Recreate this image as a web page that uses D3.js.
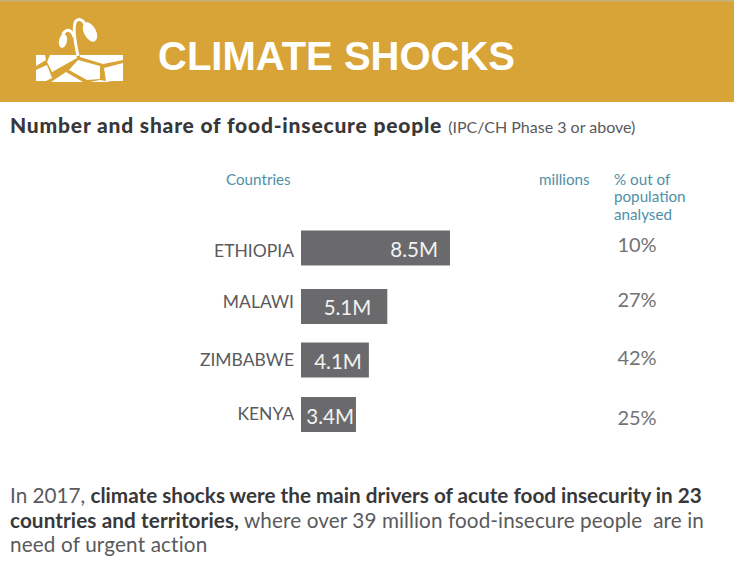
<!DOCTYPE html>
<html>
<head>
<meta charset="utf-8">
<script src="https://cdn.jsdelivr.net/npm/d3@7"></script>
<style>
  html, body { margin: 0; padding: 0; background: #fff; }
  svg { display: block; }
  text { font-family: Lato, "Open Sans", sans-serif; white-space: pre; }
</style>
</head>
<body>
<svg id="chart"></svg>
<script>
const countries = ['ETHIOPIA', 'MALAWI', 'ZIMBABWE', 'KENYA'];
const millions = [8.5, 5.1, 4.1, 3.4];
const shares = [10, 27, 42, 25];

// the original rows are hand placed, so these nudge things off the band scale
const rowNudge = [0, 3, 1, 0];
const nameNudge = [9.5, 2, 5.5, 5];
const shareNudge = [4.5, 1, 4.5, 10];
const valueInset = [12, 16, 7, 2];

const width = 734, height = 562;
const gold = '#d8a437', teal = '#4f8fa6', grey = '#6a6a6c', dark = '#38383a', label = '#5a5a5c';

const svg = d3.select('#chart').attr('width', width).attr('height', height);

// header band
svg.append('rect').attr('width', width).attr('height', 102).attr('fill', gold);
svg.append('rect').attr('width', width).attr('height', 1.5).attr('fill', '#c8b27a');
svg.append('text').attr('x', 158).attr('y', 70)
  .style('font-family', '"Liberation Sans", Arial, sans-serif')
  .attr('font-size', 40).attr('font-weight', 700).attr('fill', '#fff')
  .text('CLIMATE SHOCKS');

// seedling icon
const icon = svg.append('g').attr('fill', '#fff');
const stones = [
  '36,55 45,55 46,60 36,66',
  '50,55 76,55 77,58 52,72 47,62',
  '80,55 123,55 123,60 103,64 80,57',
  '78,60 100,66 100,79 87,80 69,70',
  '104,68 123,63 123,81 106,81',
  '36,70 47,65 52,78 46,81 36,81',
  '51,82 66,72 83,82',
  '90,82 100,80 112,82'
];
icon.selectAll('polygon').data(stones).enter().append('polygon').attr('points', d => d);
icon.append('path').attr('fill', 'none').attr('stroke', '#fff').attr('stroke-width', 3)
  .attr('d', 'M78 56C75 42 72 26 76 21C79 18 83 20 85 24M74 37C73 32 69 29 66 31C64 32 63 33 63 35');
icon.append('ellipse').attr('cx', 90).attr('cy', 32).attr('rx', 6).attr('ry', 10.5)
  .attr('transform', 'rotate(-28 90 32)');
icon.append('ellipse').attr('cx', 63).attr('cy', 41).attr('rx', 4).attr('ry', 7)
  .attr('transform', 'rotate(12 63 41)');

// subtitle
const sub = svg.append('text').attr('x', 10).attr('y', 133).attr('fill', dark);
sub.append('tspan').attr('font-size', 21).attr('font-weight', 900).attr('letter-spacing', 0.8)
  .text('Number and share of food-insecure people');
sub.append('tspan').attr('dx', 6).attr('font-size', 16).attr('fill', label)
  .text('(IPC/CH Phase 3 or above)');

// column heads
const head = svg.append('g').attr('fill', teal).attr('font-size', 15.2);
head.append('text').attr('x', 226).attr('y', 184.5).text('Countries');
head.append('text').attr('x', 539).attr('y', 184.5).text('millions');
head.selectAll('text.share-head').data(['% out of', 'population', 'analysed']).enter().append('text')
  .attr('class', 'share-head').attr('x', 614).attr('y', (d, i) => 184.5 + i * 17.5).text(d => d);

// scales: the drawn bars do not start from zero in the original
const x = d3.scaleLinear().domain([0.42, 8.5]).range([301, 450]);
const y = d3.scaleBand().domain(countries).range([220.5, 442]).paddingInner(0.37).paddingOuter(0.18);

const rows = svg.selectAll('g.row')
  .data(countries.map((c, i) => ({ country: c, value: millions[i], share: shares[i], i })))
  .enter().append('g').attr('class', 'row');

const mid = d => y(d.country) + rowNudge[d.i] + y.bandwidth() / 2;

rows.append('rect')
  .attr('x', x.range()[0])
  .attr('y', d => y(d.country) + rowNudge[d.i])
  .attr('width', d => x(d.value) - x.range()[0])
  .attr('height', y.bandwidth())
  .attr('fill', grey);

rows.append('text')
  .attr('x', 294)
  .attr('y', d => mid(d) + nameNudge[d.i])
  .attr('text-anchor', 'end').attr('font-size', 17.5).attr('fill', label)
  .text(d => d.country);

rows.append('text')
  .attr('x', d => x(d.value) - valueInset[d.i])
  .attr('y', d => mid(d) + 9)
  .attr('text-anchor', 'end').attr('font-size', 20.5).attr('fill', '#f2f2f2')
  .text(d => d.value.toFixed(1) + 'M');

rows.append('text')
  .attr('x', 637)
  .attr('y', d => mid(d) + shareNudge[d.i])
  .attr('text-anchor', 'middle').attr('font-size', 20).attr('fill', '#727274')
  .text(d => d.share + '%');

// footnote
const foot = svg.append('g').attr('font-size', 20.7).attr('fill', label);
const line1 = foot.append('text').attr('x', 10).attr('y', 503);
line1.append('tspan').text('In 2017, ');
line1.append('tspan').attr('font-weight', 700).attr('fill', dark)
  .text('climate shocks were the main drivers of acute food insecurity in 23');
const line2 = foot.append('text').attr('x', 10).attr('y', 528).attr('letter-spacing', 0.1);
line2.append('tspan').attr('font-weight', 700).attr('fill', dark).text('countries and territories,');
line2.append('tspan').text(' where over 39 million food-insecure people  are in');
foot.append('text').attr('x', 10).attr('y', 552).attr('letter-spacing', 0.15).text('need of urgent action');
</script>
</body>
</html>
